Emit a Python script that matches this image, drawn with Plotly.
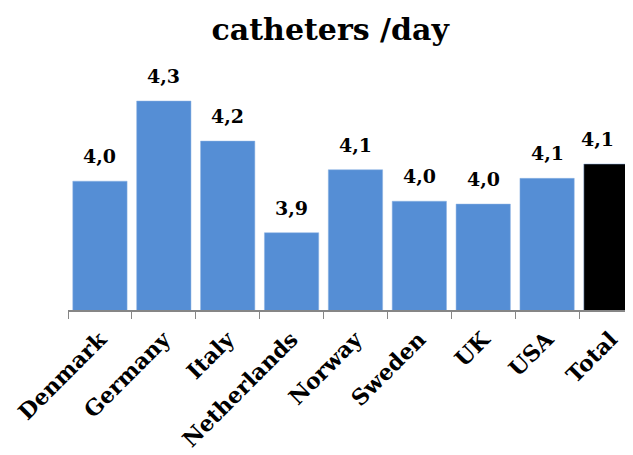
import plotly.graph_objects as go

# chart data
countries = ['Denmark', 'Germany', 'Italy', 'Netherlands', 'Norway',
             'Sweden', 'UK', 'USA', 'Total']
catheters_per_day = [4.05, 4.33, 4.19, 3.87, 4.09, 3.98, 3.97, 4.06, 4.11]
bar_colors = ['#558ED5'] * 8 + ['#000000']

font_family = 'DejaVu Serif'

fig = go.Figure()
fig.add_trace(go.Bar(
    x=countries,
    y=catheters_per_day,
    marker=dict(color=bar_colors, line=dict(color='#8DB3E2', width=0.5)),
    cliponaxis=False,
))

# value labels (decimal comma), Total label pulled left as the bar is cut off
for c, v in zip(countries, catheters_per_day):
    fig.add_annotation(
        x=c, y=v,
        text='<b>%s</b>' % ('%.1f' % v).replace('.', ','),
        showarrow=False, yanchor='bottom', yshift=12,
        xshift=-13 if c == 'Total' else 0,
        font=dict(family=font_family, size=19, color='black'),
    )

# page body adds an 8px offset, margins below allow for it
fig.update_layout(
    width=633, height=455,
    title=dict(text='<b>catheters /day</b>', x=0.509, xanchor='center',
               y=0.952, yanchor='middle',
               font=dict(family=font_family, size=30, color='black')),
    plot_bgcolor='white', paper_bgcolor='white',
    margin=dict(l=60, r=0, t=73, b=153),
    bargap=0.15,
    showlegend=False,
)
fig.update_xaxes(
    range=[-0.5, 8.47],
    showline=True, linecolor='#868686', linewidth=1.5,
    ticks='outside', tickson='boundaries', ticklen=7, tickcolor='#868686',
    tickangle=-45, automargin=False, ticklabelstandoff=6,
    tickprefix='<b>', ticksuffix='</b>',
    tickfont=dict(family=font_family, size=22, color='black'),
)
fig.update_yaxes(range=[3.6, 4.4], visible=False)

fig.write_html('out.html')
